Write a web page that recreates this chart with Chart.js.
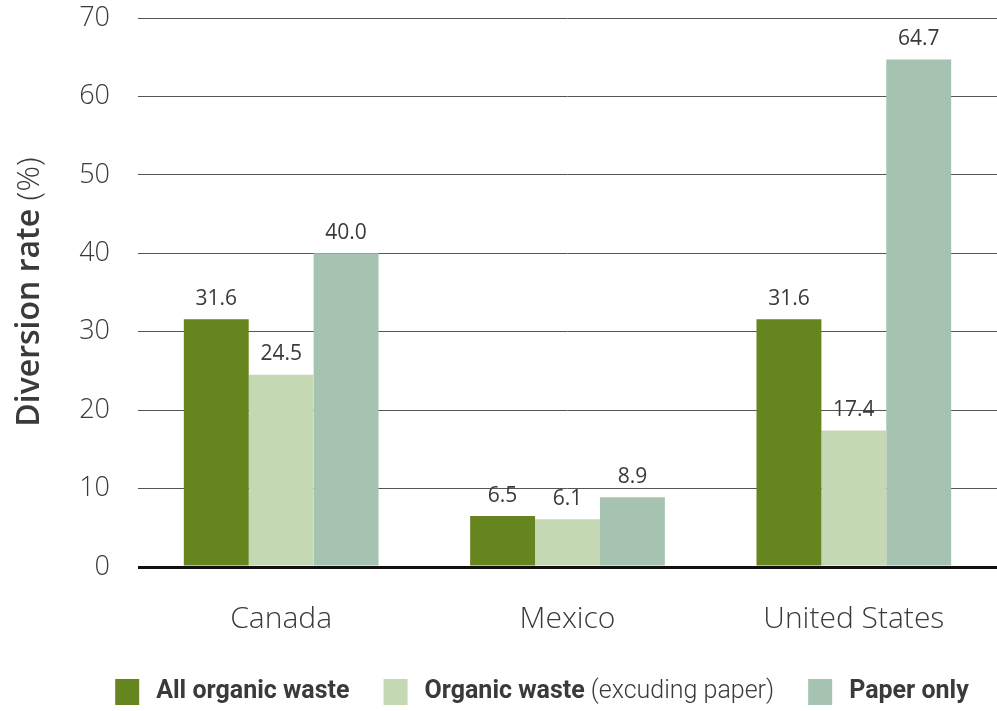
<!DOCTYPE html>
<html>
<head>
<meta charset="utf-8">
<script src="https://cdn.jsdelivr.net/npm/chart.js@4"></script>
<style>
  html, body { margin: 0; padding: 0; background: #fff; }
  #wrap { width: 997px; height: 711px; position: relative; }
</style>
</head>
<body>
<div id="wrap"><canvas id="diversionChart"></canvas></div>
<script>
// diversion rates by country
const COUNTRIES   = ['Canada', 'Mexico', 'United States'];
const ALL_ORGANIC = [31.6, 6.5, 31.6];
const ORG_NOPAPER = [24.5, 6.1, 17.4];
const PAPER_ONLY  = [40.0, 8.9, 64.7];
const Y_TICKS     = [0, 10, 20, 30, 40, 50, 60, 70];

const SERIES = [
  { bold: 'All organic waste', light: '',                  color: '#66851f', data: ALL_ORGANIC },
  { bold: 'Organic waste',     light: ' (excuding paper)', color: '#c4d8b4', data: ORG_NOPAPER },
  { bold: 'Paper only',        light: '',                  color: '#a5c3b0', data: PAPER_ONLY },
];

const TXT = '#3a3a3a';

// values above bars, rotated axis title, legend with mixed weights
const extras = {
  id: 'extras',
  afterDatasetsDraw(chart) {
    const { ctx } = chart;
    ctx.save();
    ctx.fillStyle = TXT;
    ctx.font = '400 21px "Open Sans"';
    ctx.textAlign = 'center';
    ctx.textBaseline = 'bottom';
    chart.data.datasets.forEach((ds, di) => {
      chart.getDatasetMeta(di).data.forEach((bar, i) => {
        ctx.fillText(ds.data[i].toFixed(1), bar.x, bar.y - 10);
      });
    });
    ctx.restore();
  },
  afterDraw(chart) {
    const { ctx } = chart;
    ctx.save();
    // y title
    ctx.translate(30, 292);
    ctx.rotate(-Math.PI / 2);
    ctx.fillStyle = TXT;
    ctx.textBaseline = 'middle';
    const t1 = 'Diversion rate ', t2 = '(%)';
    ctx.font = '600 32px "Open Sans"';
    const w1 = ctx.measureText(t1).width;
    ctx.font = '300 32px "Open Sans"';
    const w2 = ctx.measureText(t2).width;
    const x = -(w1 + w2) / 2;
    ctx.textAlign = 'left';
    ctx.font = '600 32px "Open Sans"';
    ctx.fillText(t1, x, 0);
    ctx.font = '300 32px "Open Sans"';
    ctx.fillText(t2, x + w1, 0);
    ctx.restore();

    // legend
    ctx.save();
    const boldF = 'bold 25px Roboto';
    const lightF = '300 25px Roboto';
    const box = 24, gapBox = 17, gapItem = 34;
    const items = SERIES.map(s => {
      ctx.font = boldF;  const wb = ctx.measureText(s.bold).width;
      ctx.font = lightF; const wl = s.light ? ctx.measureText(s.light).width : 0;
      return { s, wb, wl, w: box + gapBox + wb + wl };
    });
    const total = items.reduce((a, it) => a + it.w, 0) + gapItem * (items.length - 1);
    let lx = 542 - total / 2;
    const ly = 692;
    ctx.textBaseline = 'middle';
    ctx.textAlign = 'left';
    items.forEach(it => {
      ctx.fillStyle = it.s.color;
      ctx.fillRect(lx, ly - 13, box, 26);
      ctx.fillStyle = TXT;
      ctx.font = boldF;
      ctx.fillText(it.s.bold, lx + box + gapBox, ly);
      if (it.s.light) {
        ctx.font = lightF;
        ctx.fillText(it.s.light, lx + box + gapBox + it.wb, ly);
      }
      lx += it.w + gapItem;
    });
    ctx.restore();
  }
};

new Chart(document.getElementById('diversionChart'), {
  type: 'bar',
  data: {
    labels: COUNTRIES,
    datasets: SERIES.map(s => ({
      label: s.bold + s.light,
      data: s.data,
      backgroundColor: s.color,
      borderWidth: 0,
      barPercentage: 1,
      categoryPercentage: 0.68,
    })),
  },
  options: {
    responsive: true, maintainAspectRatio: false, animation: false,
    layout: { padding: { top: 18, right: 0, left: 0, bottom: 48 } },
    plugins: { legend: { display: false }, tooltip: { enabled: false } },
    scales: {
      x: {
        grid: { display: false }, border: { display: false },
        ticks: { color: TXT, font: { family: 'Open Sans', size: 30, weight: '300' }, padding: 26 },
      },
      y: {
        min: 0, max: 70,
        afterBuildTicks: s => { s.ticks = Y_TICKS.map(v => ({ value: v })); },
        afterFit: s => { s.width = 138; s.paddingTop = 0; s.paddingBottom = 0; },
        border: { display: false },
        grid: {
          drawTicks: false,
          color: c => c.tick.value === 0 ? '#111' : '#555',
          lineWidth: c => c.tick.value === 0 ? 3 : 1,
        },
        ticks: { color: TXT, font: { family: 'Open Sans', size: 27, weight: '300' }, padding: 28 },
      },
    },
  },
  plugins: [extras],
});
</script>
</body>
</html>
